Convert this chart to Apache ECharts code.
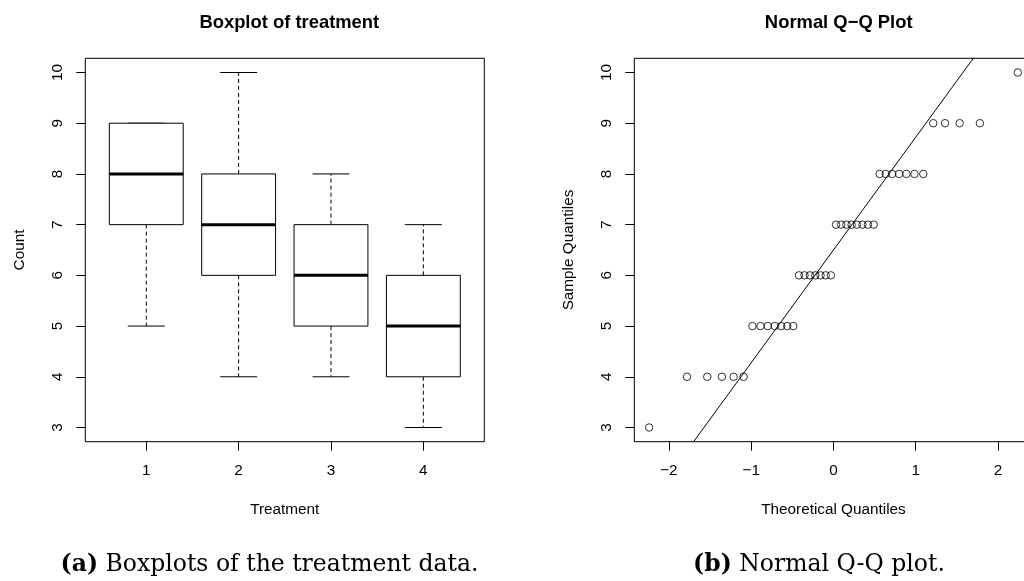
<!DOCTYPE html>
<html>
<head>
<meta charset="utf-8">
<script src="https://cdn.jsdelivr.net/npm/echarts@6/dist/echarts.min.js"></script>
<style>
  html, body { margin: 0; padding: 0; background: #fff; }
  #chart { width: 1024px; height: 581px; }
</style>
</head>
<body>
<div id="chart"></div>
<script>
// ---- Boxplot data: five-number summary per treatment ----
const treatments = [1, 2, 3, 4];
const boxMin    = [5, 4, 4, 3];
const boxQ1     = [7, 6, 5, 4];
const boxMedian = [8, 7, 6, 5];
const boxQ3     = [9, 8, 7, 6];
const boxMax    = [9, 10, 8, 7];

// ---- Normal Q-Q data (sorted sample vs. theoretical quantiles) ----
const sampleQuantiles = [
  3,
  4, 4, 4, 4, 4,
  5, 5, 5, 5, 5, 5, 5,
  6, 6, 6, 6, 6, 6, 6,
  7, 7, 7, 7, 7, 7, 7, 7,
  8, 8, 8, 8, 8, 8, 8,
  9, 9, 9, 9,
  10
];
const theoreticalQuantiles = [
  -2.241, -1.780, -1.534, -1.356, -1.213, -1.092, -0.985, -0.887, -0.798, -0.714,
  -0.636, -0.561, -0.489, -0.419, -0.352, -0.286, -0.221, -0.157, -0.094, -0.031,
   0.031,  0.094,  0.157,  0.221,  0.286,  0.352,  0.419,  0.489,  0.561,  0.636,
   0.714,  0.798,  0.887,  0.985,  1.092,  1.213,  1.356,  1.534,  1.780,  2.241
];
// Reference line through the first and third quartiles
const qqLineX = [-0.6745, 0.6745];
const qqLineY = [5, 8];

const yTicks = [3, 4, 5, 6, 7, 8, 9, 10];
const qqXTicks = [-2, -1, 0, 1, 2];

const FONT = 'Liberation Sans, Arial, Helvetica, sans-serif';
const SERIF = 'DejaVu Serif, serif';
const AX = 15.3;
const CAP = 23.5;

const boxData = treatments.map((t, i) => [t, boxMin[i], boxQ1[i], boxMedian[i], boxQ3[i], boxMax[i]]);
const qqPoints = theoreticalQuantiles.map((x, i) => [x, sampleQuantiles[i]]);

const slope = (qqLineY[1] - qqLineY[0]) / (qqLineX[1] - qqLineX[0]);
const intercept = qqLineY[0] - slope * qqLineX[0];
const lineEnds = [-4, 4].map(x => [x, intercept + slope * x]);

function axisCommon(extra) {
  return Object.assign({
    axisLine: { show: false, onZero: false },
    splitLine: { show: false },
    axisTick: { show: true, length: 9, lineStyle: { color: '#000', width: 1 } },
    axisLabel: { color: '#000', fontFamily: FONT, fontSize: AX },
    nameTextStyle: { color: '#000', fontFamily: FONT, fontSize: AX },
    nameLocation: 'middle'
  }, extra);
}

function yAxisDef(gridIndex, name) {
  const a = axisCommon({
    type: 'value', gridIndex, min: 2.72, max: 10.28, name, nameGap: 58
  });
  a.axisTick.customValues = yTicks;
  a.axisLabel.customValues = yTicks;
  a.axisLabel.rotate = 90;
  a.axisLabel.margin = 20;
  return a;
}

function caption(label, rest, cx) {
  return {
    text: '{b|' + label + '} ' + rest, left: cx, top: 548, textAlign: 'center',
    textStyle: {
      fontFamily: SERIF, fontSize: CAP, fontWeight: 'normal', color: '#000',
      rich: { b: { fontFamily: SERIF, fontSize: CAP, fontWeight: 'bold', color: '#000' } }
    }
  };
}

const option = {
  animation: false,
  backgroundColor: '#fff',
  title: [
    { text: 'Boxplot of treatment', left: 284.3, top: 9, textAlign: 'center',
      textStyle: { fontFamily: FONT, fontSize: 18.4, fontWeight: 'bold', color: '#000' } },
    { text: 'Normal Q\u2212Q Plot', left: 833.7, top: 9, textAlign: 'center',
      textStyle: { fontFamily: FONT, fontSize: 18.4, fontWeight: 'bold', color: '#000' } },
    caption('(a)', 'Boxplots of the treatment data.', 264.5),
    caption('(b)', 'Normal Q-Q plot.', 814)
  ],
  grid: [
    { left: 85.3, top: 58.3, width: 399, height: 383.4, show: true, outerBoundsMode: 'none',
      borderColor: '#000', borderWidth: 1, backgroundColor: 'transparent' },
    { left: 634.3, top: 58.3, width: 398.3, height: 383.4, show: true, outerBoundsMode: 'none',
      borderColor: '#000', borderWidth: 1, backgroundColor: 'transparent' }
  ],
  xAxis: [
    (function () {
      const a = axisCommon({ type: 'value', gridIndex: 0, min: 0.34, max: 4.66,
        name: 'Treatment', nameGap: 61 });
      a.axisTick.customValues = treatments;
      a.axisLabel.customValues = treatments;
      a.axisLabel.margin = 22;
      return a;
    })(),
    (function () {
      const a = axisCommon({ type: 'value', gridIndex: 1, min: -2.4207, max: 2.4207,
        name: 'Theoretical Quantiles', nameGap: 61 });
      a.axisTick.customValues = qqXTicks;
      a.axisLabel.customValues = qqXTicks;
      a.axisLabel.margin = 22;
      a.axisLabel.formatter = v => (v < 0 ? '\u2212' + Math.abs(v) : String(v));
      return a;
    })()
  ],
  yAxis: [
    yAxisDef(0, 'Count'),
    yAxisDef(1, 'Sample Quantiles')
  ],
  series: [
    {
      type: 'custom',
      xAxisIndex: 0, yAxisIndex: 0,
      data: boxData,
      renderItem: function (params, api) {
        const x = api.value(0);
        const lo = api.value(1), q1 = api.value(2), md = api.value(3),
              q3 = api.value(4), hi = api.value(5);
        const boxW = api.size([0.8, 0])[0];
        const capW = api.size([0.4, 0])[0];
        const c = api.coord([x, md]);
        const cx = c[0];
        const yLo = api.coord([x, lo])[1];
        const yQ1 = api.coord([x, q1])[1];
        const yMd = c[1];
        const yQ3 = api.coord([x, q3])[1];
        const yHi = api.coord([x, hi])[1];
        const thin = { stroke: '#000', lineWidth: 1, fill: null };
        const dashed = { stroke: '#000', lineWidth: 1, lineDash: [4, 3], fill: null };
        return {
          type: 'group',
          children: [
            { type: 'line', shape: { x1: cx, y1: yQ3, x2: cx, y2: yHi }, style: dashed },
            { type: 'line', shape: { x1: cx, y1: yQ1, x2: cx, y2: yLo }, style: dashed },
            { type: 'line', shape: { x1: cx - capW / 2, y1: yHi, x2: cx + capW / 2, y2: yHi }, style: thin },
            { type: 'line', shape: { x1: cx - capW / 2, y1: yLo, x2: cx + capW / 2, y2: yLo }, style: thin },
            { type: 'rect', shape: { x: cx - boxW / 2, y: yQ3, width: boxW, height: yQ1 - yQ3 },
              style: { stroke: '#000', lineWidth: 1, fill: '#fff' } },
            { type: 'line', shape: { x1: cx - boxW / 2, y1: yMd, x2: cx + boxW / 2, y2: yMd },
              style: { stroke: '#000', lineWidth: 3 } }
          ]
        };
      }
    },
    {
      type: 'scatter',
      xAxisIndex: 1, yAxisIndex: 1,
      data: qqPoints,
      symbol: 'circle',
      symbolSize: 7.5,
      itemStyle: { color: 'rgba(0,0,0,0)', borderColor: '#000', borderWidth: 1 }
    },
    {
      type: 'line',
      xAxisIndex: 1, yAxisIndex: 1,
      data: lineEnds,
      showSymbol: false,
      clip: true,
      lineStyle: { color: '#000', width: 1 }
    }
  ]
};

const chart = echarts.init(document.getElementById('chart'), null, { renderer: 'canvas' });
chart.setOption(option);
</script>
</body>
</html>
